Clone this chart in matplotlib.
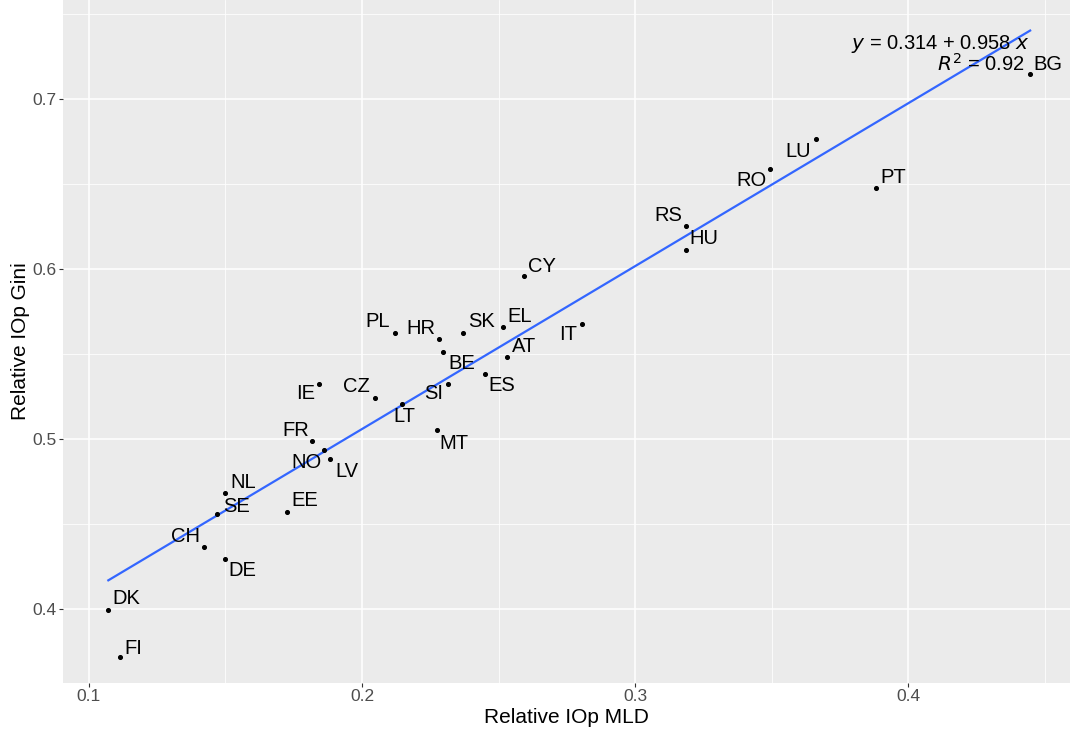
import numpy as np
import matplotlib
matplotlib.use("Agg")
import matplotlib.pyplot as plt
from matplotlib.ticker import MultipleLocator

# data
countries = ["PL", "HR", "BE", "SK", "EL", "IT", "AT", "ES", "SI", "IE", "CZ", "LT",
             "MT", "FR", "NO", "LV", "NL", "SE", "EE", "CH", "DE", "DK", "FI",
             "LU", "RO", "PT", "RS", "HU", "CY", "BG"]
iop_mld = [0.2121, 0.2282, 0.2298, 0.2371, 0.2515, 0.2806, 0.2530, 0.2449, 0.2315,
           0.1844, 0.2046, 0.2148, 0.2276, 0.1818, 0.1862, 0.1883, 0.1499, 0.1470,
           0.1727, 0.1420, 0.1497, 0.1071, 0.1112, 0.3661, 0.3493, 0.3883, 0.3186,
           0.3186, 0.2593, 0.4447]
iop_gini = [0.5619, 0.5584, 0.5507, 0.5619, 0.5658, 0.5672, 0.5478, 0.5381, 0.5321,
            0.5321, 0.5240, 0.5205, 0.5048, 0.4985, 0.4931, 0.4878, 0.4681, 0.4556,
            0.4569, 0.4362, 0.4293, 0.3991, 0.3716, 0.6764, 0.6587, 0.6472, 0.6250,
            0.6109, 0.5956, 0.7142]
intercept = 0.314
slope = 0.958
r2 = 0.92

# label offsets in pixels (ggrepel-like placement)
offsets = {
    "PL": (-17, 12), "HR": (-18, 11), "BE": (18, -11), "SK": (18, 12), "EL": (17, 10),
    "IT": (-14, -10), "AT": (17, 11), "ES": (17, -12), "SI": (-14, -10), "IE": (-14, -10),
    "CZ": (-18, 11), "LT": (2, -13), "MT": (17, -13), "FR": (-17, 11), "NO": (-18, -12),
    "LV": (17, -12), "NL": (18, 10), "SE": (19, 8), "EE": (17, 11), "CH": (-18, 11),
    "DE": (18, -12), "DK": (18, 12), "FI": (14, 8), "LU": (-17, -13), "RO": (-18, -12),
    "PT": (17, 11), "RS": (-18, 11), "HU": (18, 12), "CY": (18, 10), "BG": (18, 10),
}

plt.rcParams["font.family"] = ["Liberation Sans", "DejaVu Sans"]

fig = plt.figure(figsize=(10.71, 7.34), dpi=100)
ax = fig.add_axes([63 / 1071, 51 / 734, 1007 / 1071, 683 / 734])
ax.set_facecolor("#EBEBEB")
for s in ax.spines.values():
    s.set_visible(False)

ax.xaxis.set_major_locator(MultipleLocator(0.1))
ax.xaxis.set_minor_locator(MultipleLocator(0.05))
ax.yaxis.set_major_locator(MultipleLocator(0.1))
ax.yaxis.set_minor_locator(MultipleLocator(0.05))
ax.grid(which="major", color="white", lw=1.1)
ax.grid(which="minor", color="white", lw=0.55)
ax.set_axisbelow(True)
ax.tick_params(which="both", length=3, pad=1.5, color="#333333", labelsize=12.5,
               labelcolor="#4D4D4D")
ax.tick_params(which="minor", length=0)

xs = np.array(iop_mld)
xl = np.array([xs.min(), xs.max()])
ax.plot(xl, intercept + slope * xl, color="#3366FF", lw=1.6, zorder=2)
ax.scatter(iop_mld, iop_gini, s=7, color="black", zorder=3)

for c, x, y in zip(countries, iop_mld, iop_gini):
    dx, dy = offsets[c]
    ax.annotate(c, (x, y), xytext=(dx * 0.72, dy * 0.72), textcoords="offset points",
                ha="center", va="center", fontsize=14.5, color="black", zorder=4)

ax.text(0.960, 0.9356, r"$y$ = 0.314 + 0.958 $x$", transform=ax.transAxes,
        ha="right", va="center", fontsize=14.5)
ax.text(0.955, 0.906, r"$R^2$ = 0.92", transform=ax.transAxes,
        ha="right", va="center", fontsize=14.5)

ax.set_xlim(0.0905, 0.4593)
ax.set_ylim(0.3562, 0.758)
ax.set_xlabel("Relative IOp MLD", fontsize=15, labelpad=3)
ax.set_ylabel("Relative IOp Gini", fontsize=15, labelpad=2)

fig.savefig("out.png", dpi=100)
